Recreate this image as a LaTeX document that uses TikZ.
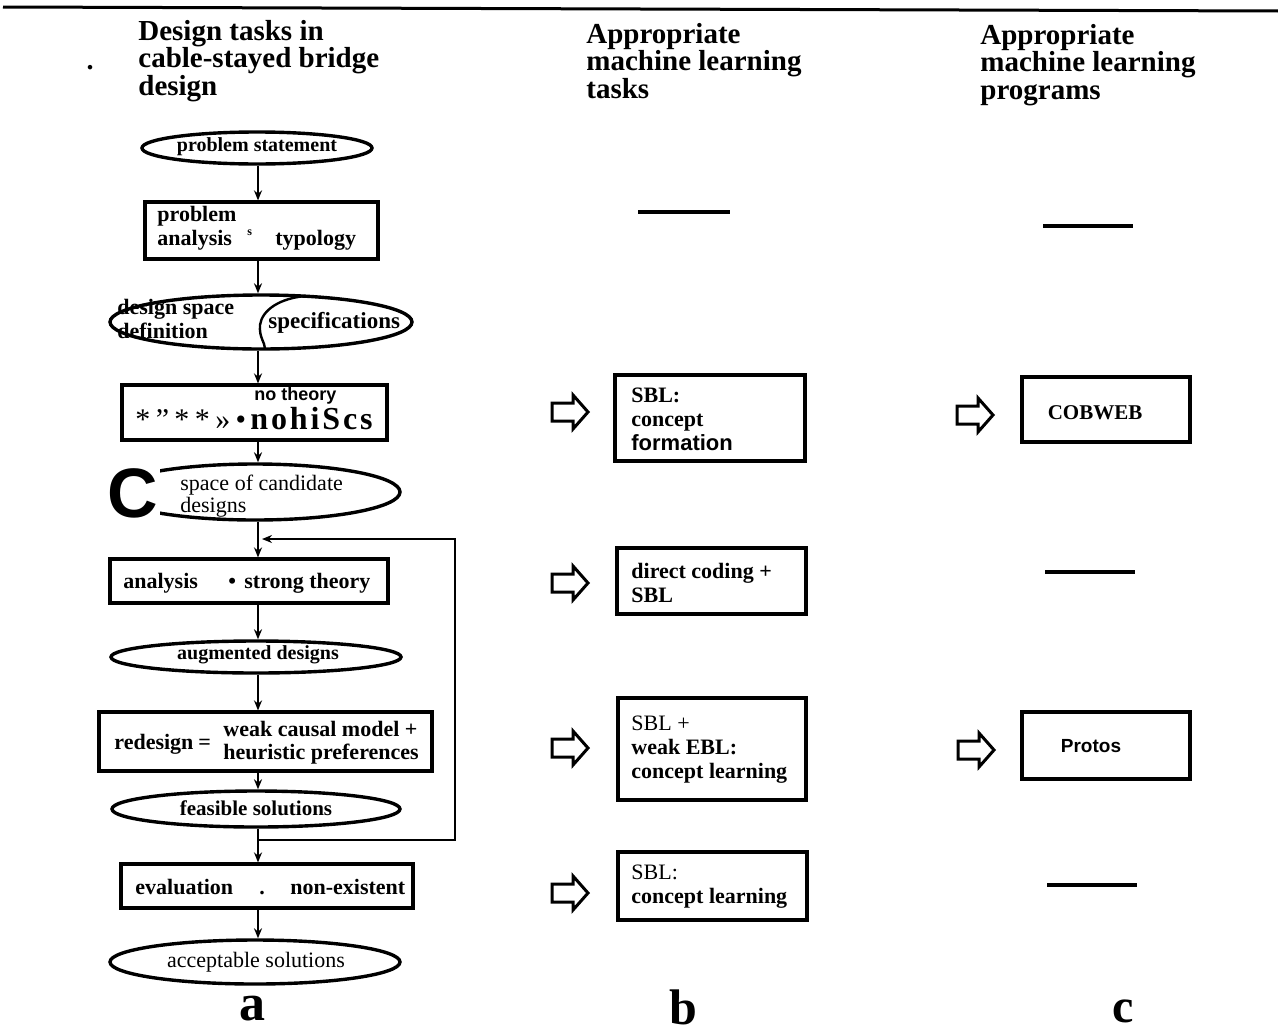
\documentclass[tikz,border=0pt]{standalone}
\usepackage{fontspec}
\setmainfont{Liberation Serif}
\newfontfamily\sansf{Liberation Sans}
\usetikzlibrary{shapes.geometric,arrows.meta,fit}

\tikzset{
  x=0.5pt, y=-0.5pt,
  boxst/.style={draw, line width=1.6pt, inner sep=0pt},
  ellst/.style={draw, ellipse, line width=1.7pt, inner sep=0pt},
  txt/.style={inner sep=0pt, anchor=base west, font=\bfseries\fontsize{11}{12}\selectfont},
  rtxt/.style={inner sep=0pt, anchor=base west, font=\fontsize{11}{12}\selectfont},
  blk/.style={inner sep=0pt, anchor=west, align=left, font=\bfseries\fontsize{11}{12}\selectfont},
  hdr/.style={inner sep=0pt, anchor=west, align=left, font=\bfseries\fontsize{14.5}{13.7}\selectfont},
  flow/.style={line width=1pt, -{Stealth[length=5pt,width=4pt]}},
  link/.style={line width=1pt},
  dashmark/.style={line width=1.6pt},
  hollowarrow/.pic={
    \draw[line width=1.5pt, line join=miter]
      (0,-9) -- (21,-9) -- (21,-17) -- (36,0) -- (21,17) -- (21,9) -- (0,9) -- cycle;
  },
}

\begin{document}
\begin{tikzpicture}
\useasboundingbox (0,0) rectangle (1278,1033);

% rule across the top
\draw[line width=1.5pt] (3,7) -- (1278,11);

% column headings
\node[hdr] (h1) at (138,61) {Design tasks in\\cable-stayed bridge\\design};
\node[hdr] (h2) at (586,61) {Appropriate\\machine learning\\tasks};
\node[hdr] (h3) at (980,65) {Appropriate\\machine learning\\programs};
\node[inner sep=0pt, font=\bfseries\fontsize{14}{14}\selectfont] (dot) at (90,68) {.};

% ---------------- column a: design tasks ----------------
\coordinate (spine) at (258,0);

\node[ellst, minimum width=115pt, minimum height=16pt] (e1) at (257,148) {};
\node[inner sep=0pt, font=\bfseries\fontsize{10}{10}\selectfont] (t1) at (257,147) {problem statement};

\node[boxst, fit={(145,202) (378,259)}] (b1) {};
\node[txt] (t2a) at (157,221) {problem};
\node[txt] (t2b) at (157,245) {analysis};
\node[txt, font=\bfseries\fontsize{6}{6}\selectfont] (t2c) at (247,235) {s};
\node[txt] (t2d) at (275,245) {typology};

\node[ellst, minimum width=151pt, minimum height=27pt] (e2) at (261,322) {};
\draw[line width=1.2pt] (306,296) .. controls (280,298) and (262,310) .. (260,325)
  .. controls (259,338) and (265,342) .. (265,349);
\node[txt, font=\bfseries\fontsize{11}{12}\selectfont] (t3a) at (117,314) {design space};
\node[txt, font=\bfseries\fontsize{11}{12}\selectfont] (t3b) at (117,338) {definition};
\node[txt, font=\bfseries\fontsize{11.5}{12}\selectfont] (t3c) at (268,328) {specifications};

\node[boxst, fit={(122,385) (387,440)}] (b2) {};
\node[txt, font=\sansf\bfseries\fontsize{9}{9}\selectfont] (t4a) at (254,400) {no theory};
\node[txt, font=\fontsize{15}{15}\selectfont\addfontfeature{LetterSpace=18}] (t4b) at (135,429) {*"**»•};
\node[txt, font=\bfseries\fontsize{16}{16}\selectfont\addfontfeature{LetterSpace=9}] (t4c) at (250,429) {nohiScs};

\node[ellst, minimum width=145pt, minimum height=28pt] (e3) at (255,492) {};
\node[rtxt] (t5a) at (180,490) {space of candidate};
\node[rtxt] (t5b) at (180,512) {designs};
\node[inner sep=1pt, fill=white, font=\sansf\bfseries\fontsize{35}{35}\selectfont] (bigc) at (133,493) {C};

\node[boxst, fit={(110,559) (388,603)}] (b4) {};
\node[txt] (t6a) at (123,588) {analysis};
\node[txt] (t6b) at (228,588) {•};
\node[txt] (t6c) at (244,588) {strong theory};

\node[ellst, minimum width=145pt, minimum height=16pt] (e4) at (256,657) {};
\node[inner sep=0pt, font=\bfseries\fontsize{10}{10}\selectfont] (t7) at (258,655) {augmented designs};

\node[boxst, fit={(99,712) (432,771)}] (b5) {};
\node[txt] (t8a) at (114,749) {redesign};
\node[txt] (t8b) at (198,749) {=};
\node[txt] (t8c) at (223,736) {weak causal model +};
\node[txt] (t8d) at (223,759) {heuristic preferences};

\node[ellst, minimum width=144pt, minimum height=18pt] (e5) at (256,809) {};
\node[inner sep=0pt, font=\bfseries\fontsize{10.5}{10}\selectfont] (t9) at (256,808) {feasible solutions};

\node[boxst, fit={(121,864) (413,908)}] (b6) {};
\node[txt] (t10a) at (135,894) {evaluation};
\node[txt] (t10b) at (259,894) {.};
\node[txt] (t10c) at (290,894) {non-existent};

\node[ellst, minimum width=145pt, minimum height=22pt] (e6) at (255,962) {};
\node[inner sep=0pt, font=\fontsize{11}{11}\selectfont] (t11) at (256,962) {acceptable solutions};

% flow down the spine
\coordinate (j1) at (258,539);
\coordinate (j1tip) at (262,539);
\coordinate (j2) at (258,840);
\coordinate (fbtop) at (455,539);
\coordinate (fbbot) at (455,840);

\draw[flow] (spine |- e1.south) -- (spine |- b1.north);
\draw[flow] (spine |- b1.south) -- (spine |- e2.north);
\draw[flow] (spine |- e2.south) -- (spine |- b2.north);
\draw[flow] (spine |- b2.south) -- (spine |- e3.north);
\draw[link] (spine |- e3.south) -- (j1);
\draw[flow] (j1) -- (spine |- b4.north);
\draw[flow] (spine |- b4.south) -- (spine |- e4.north);
\draw[flow] (spine |- e4.south) -- (spine |- b5.north);
\draw[flow] (spine |- b5.south) -- (spine |- e5.north);
\draw[link] (spine |- e5.south) -- (j2);
\draw[flow] (j2) -- (spine |- b6.north);
\draw[flow] (spine |- b6.south) -- (spine |- e6.north);

% feedback loop
\draw[flow] (j2) -- (fbbot) -- (fbtop) -- (j1tip);

\node[inner sep=0pt, font=\bfseries\fontsize{26}{26}\selectfont] (la) at (252,1009) {a};

% ---------------- column b: learning tasks ----------------
\draw[dashmark] (638,212) -- (730,212);

\pic at (552,412) {hollowarrow};
\node[boxst, fit={(615,375) (805,461)}] (c1) {};
\node[blk] (u1) at (631,419) {SBL:\\concept\\{\sansf\bfseries formation}};

\pic at (552,583) {hollowarrow};
\node[boxst, fit={(617,548) (806,614)}] (c2) {};
\node[blk] (u2) at (631,583) {direct coding +\\SBL};

\pic at (552,748) {hollowarrow};
\node[boxst, fit={(618,698) (806,800)}] (c3) {};
\node[blk] (u3) at (631,750) {\mdseries SBL +\\weak EBL:\\concept learning};

\pic at (552,893) {hollowarrow};
\node[boxst, fit={(618,852) (807,920)}] (c4) {};
\node[blk] (u4) at (631,887) {\mdseries SBL:\\concept learning};

\node[inner sep=0pt, font=\bfseries\fontsize{25}{25}\selectfont] (lb) at (683,1007) {b};

% ---------------- column c: learning programs ----------------
\draw[dashmark] (1043,226) -- (1133,226);

\pic at (957,415) {hollowarrow};
\node[boxst, fit={(1022,377) (1190,442)}] (d1) {};
\node[inner sep=0pt, font=\bfseries\fontsize{10.5}{10.5}\selectfont] (v1) at (1095,413) {COBWEB};

\draw[dashmark] (1045,572) -- (1135,572);

\pic at (958,750) {hollowarrow};
\node[boxst, fit={(1022,712) (1190,779)}] (d2) {};
\node[inner sep=0pt, font=\sansf\bfseries\fontsize{9.5}{9.5}\selectfont] (v2) at (1091,746) {Protos};

\draw[dashmark] (1047,885) -- (1137,885);

\node[inner sep=0pt, font=\bfseries\fontsize{24}{24}\selectfont] (lc) at (1123,1011) {c};
\end{tikzpicture}
\end{document}
